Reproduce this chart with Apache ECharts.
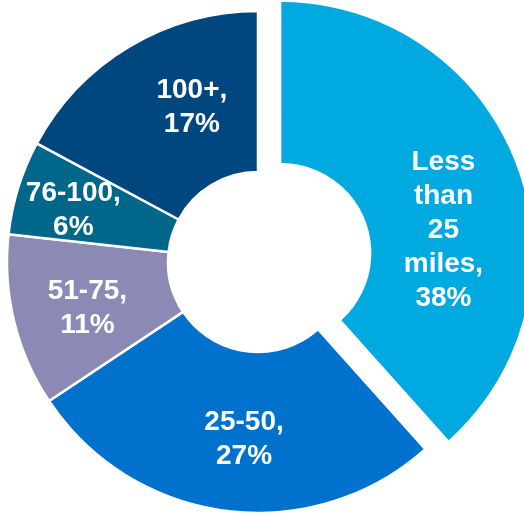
<!DOCTYPE html>
<html>
<head>
<meta charset="utf-8">
<script src="https://cdn.jsdelivr.net/npm/echarts@6/dist/echarts.min.js"></script>
<style>html,body{margin:0;padding:0;background:#fff;}#c{width:524px;height:514px;}</style>
</head>
<body>
<div id="c"></div>
<script>
const categories = ['Less than 25 miles', '25-50', '51-75', '76-100', '100+'];
const values = [38, 27, 11, 6, 17];
const colors = ['#00A9E0', '#0072CE', '#8A8AB4', '#00678A', '#00467F'];
const labelOffsets = [[0, 39], [8, 5], [-2, 5], [-19, 0], [23, -6]];

const chart = echarts.init(document.getElementById('c'), null, {renderer: 'canvas'});
const data = categories.map((name, i) => ({
  name: name,
  value: values[i],
  selected: i === 0,
  itemStyle: {color: colors[i]},
  label: {offset: labelOffsets[i]},
  select: {label: {offset: labelOffsets[i]}, itemStyle: {color: colors[i], borderWidth: 0}}
}));
chart.setOption({
  animation: false,
  series: [{
    type: 'pie',
    center: [258, 262],
    radius: [90, 251],
    startAngle: 90,
    clockwise: true,
    selectedMode: 'single',
    selectedOffset: 25,
    avoidLabelOverlap: false,
    itemStyle: {borderColor: '#ffffff', borderWidth: 2.5},
    emphasis: {disabled: true},
    labelLine: {show: false},
    label: {
      show: true,
      position: 'inside',
      color: '#ffffff',
      fontFamily: 'Liberation Sans, Arial, sans-serif',
      fontWeight: 'bold',
      fontSize: 28,
      lineHeight: 34,
      formatter: p => p.name.replace(/ /g, '\n') + ',\n' + p.value + '%'
    },
    data: data
  }]
});
</script>
</body>
</html>
